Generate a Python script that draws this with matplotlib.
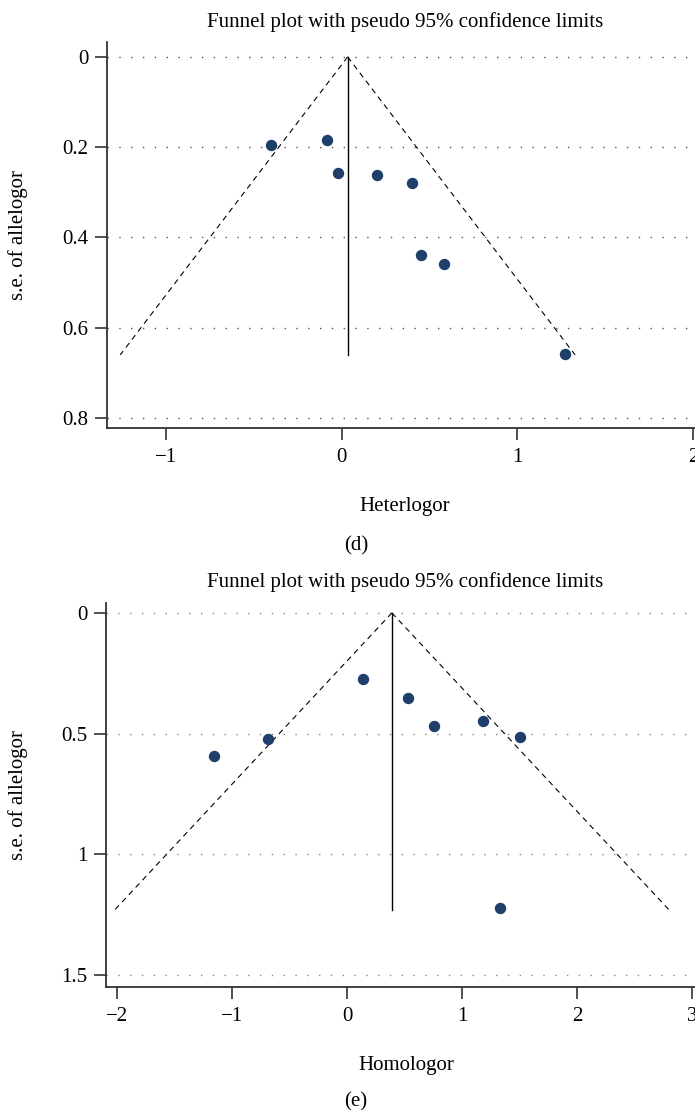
import matplotlib
matplotlib.use("Agg")
import matplotlib.pyplot as plt
import numpy as np

# ---- data ----
# panel (d): Heterlogor
d_logor = [-0.40, -0.085, -0.023, 0.20, 0.40, 0.45, 0.58, 1.27]
d_se = [0.195, 0.184, 0.257, 0.262, 0.279, 0.439, 0.459, 0.658]
d_pooled = 0.034
d_se_max = 0.66
d_yticks = [0, 0.2, 0.4, 0.6, 0.8]
d_ytick_labels = ["0", "0.2", "0.4", "0.6", "0.8"]
d_xticks = [-1, 0, 1, 2]
d_xtick_labels = ["\u22121", "0", "1", "2"]

# panel (e): Homologor
e_logor = [-1.157, -0.687, 0.139, 0.53, 0.757, 1.18, 1.50, 1.33]
e_se = [0.592, 0.522, 0.273, 0.352, 0.468, 0.447, 0.513, 1.222]
e_pooled = 0.39
e_se_max = 1.23
e_yticks = [0, 0.5, 1, 1.5]
e_ytick_labels = ["0", "0.5", "1", "1.5"]
e_xticks = [-2, -1, 0, 1, 2, 3]
e_xtick_labels = ["\u22122", "\u22121", "0", "1", "2", "3"]

title = "Funnel plot with pseudo 95% confidence limits"
ylabel = "s.e. of allelogor"

plt.rcParams['font.family'] = ['Liberation Serif', 'DejaVu Serif']

W, H = 695, 1110
FS = 15
fig = plt.figure(figsize=(W / 100, H / 100), dpi=100)

def px_axes(left, top, right, bottom):
    return fig.add_axes([left / W, 1 - bottom / H, (right - left) / W, (bottom - top) / H])

def fy(y):
    return 1 - y / H

marker_color = "#1f3f6b"

def funnel(ax, x, se, pooled, se_max, yticks, ylabs, xticks, xlabs, xlim, ylim, grid_color):
    ax.set_xlim(*xlim)
    ax.set_ylim(*ylim)
    for yt in yticks:
        ax.axhline(yt, color=grid_color, lw=1.0, ls=(0, (1, 7.5)), zorder=0)
    s = np.array([0, se_max])
    ax.plot(pooled - 1.96 * s, s, color="black", lw=0.8, ls=(0, (5, 4)))
    ax.plot(pooled + 1.96 * s, s, color="black", lw=0.8, ls=(0, (5, 4)))
    ax.plot([pooled, pooled], [0, se_max], color="black", lw=1.0)
    ax.plot(x, se, "o", color=marker_color, ms=7.2, mec=marker_color, zorder=3)
    ax.set_yticks(yticks)
    ax.set_yticklabels(ylabs)
    ax.set_xticks(xticks)
    ax.set_xticklabels(xlabs)
    for sp in ["top", "right"]:
        ax.spines[sp].set_visible(False)
    for sp in ["left", "bottom"]:
        ax.spines[sp].set_linewidth(1.3)
        ax.spines[sp].set_color("#333333")
    ax.tick_params(axis="both", direction="out", length=8.3, width=1.2,
                   color="#333333", labelsize=FS)
    ax.tick_params(axis="y", pad=5)
    ax.tick_params(axis="x", pad=6)

# top panel
ax1 = px_axes(107, 42, 695, 428)
funnel(ax1, d_logor, d_se, d_pooled, d_se_max, d_yticks, d_ytick_labels,
       d_xticks, d_xtick_labels, (-1.335, 2.01), (0.822, -0.033), "#555555")
fig.text(405 / W, fy(27), title, ha="center", va="baseline", fontsize=FS)
fig.text(18 / W, fy(235), ylabel, ha="center", va="center", rotation=90, fontsize=FS)
fig.text(405 / W, fy(511), "Heterlogor", ha="center", va="baseline", fontsize=FS)
fig.text(356 / W, fy(550), "(d)", ha="center", va="baseline", fontsize=FS)

# bottom panel
ax2 = px_axes(106, 603, 695, 987)
funnel(ax2, e_logor, e_se, e_pooled, e_se_max, e_yticks, e_ytick_labels,
       e_xticks, e_xtick_labels, (-2.096, 3.026), (1.549, -0.041), "#888888")
fig.text(405 / W, fy(587), title, ha="center", va="baseline", fontsize=FS)
fig.text(18 / W, fy(795), ylabel, ha="center", va="center", rotation=90, fontsize=FS)
fig.text(406 / W, fy(1070), "Homologor", ha="center", va="baseline", fontsize=FS)
fig.text(356 / W, fy(1106), "(e)", ha="center", va="baseline", fontsize=FS)

fig.savefig("out.png", dpi=100)
